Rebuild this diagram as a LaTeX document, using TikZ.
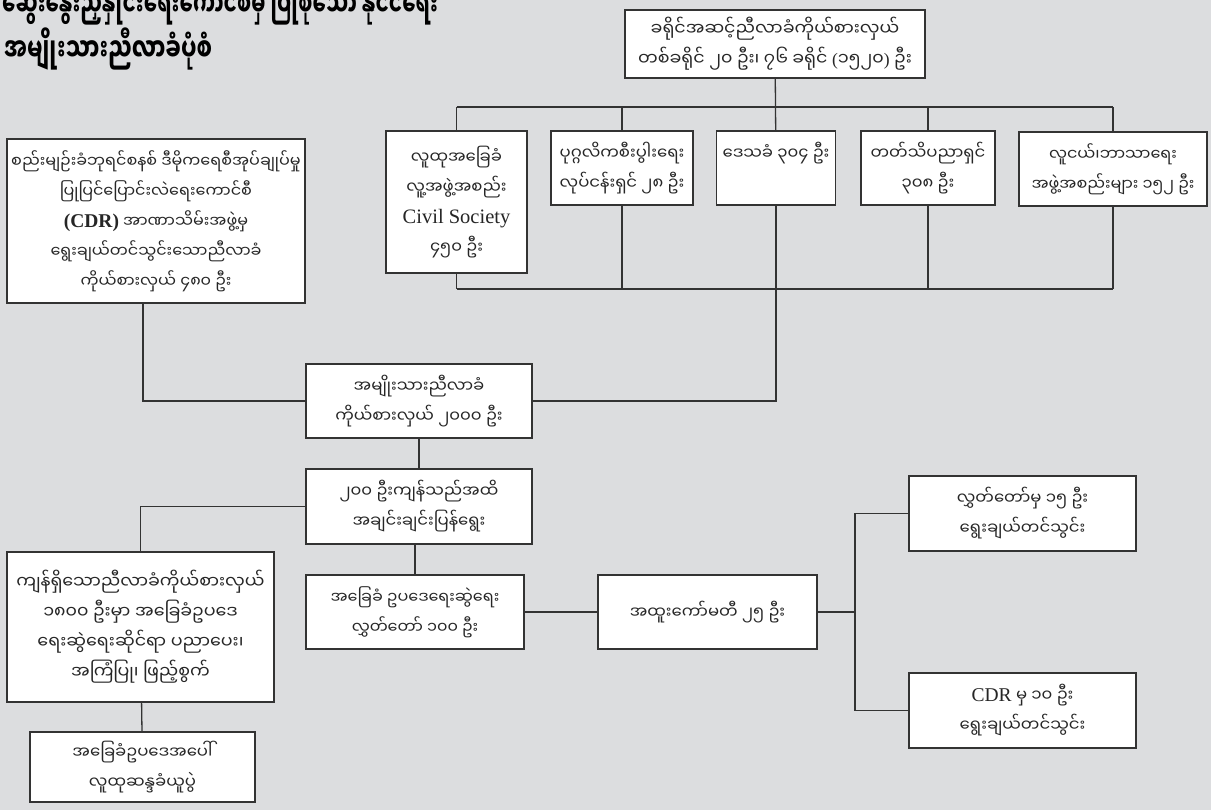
\documentclass[tikz,border=0pt]{standalone}
\usepackage{fontspec}
\setmainfont{Liberation Serif}
\newfontfamily\mmfont[Script=Myanmar]{Noto Sans Myanmar UI}
\usepackage{tikz}
\usetikzlibrary{positioning}

\definecolor{bggray}{RGB}{220,221,223}
\definecolor{boxline}{RGB}{51,51,51}
\newcommand{\lat}[1]{{\rmfamily #1}}

\tikzset{
  box/.style={draw=boxline, fill=white, line width=1.3pt, align=center,
    inner sep=0pt, text=black!85, font=\fontsize{16.5}{30}\selectfont\mmfont},
  bigtext/.style={font=\fontsize{17.5}{30}\selectfont\mmfont},
  smalltext/.style={font=\fontsize{16}{30}\selectfont\mmfont},
  headline/.style={anchor=west, inner sep=0pt, font=\fontsize{32}{30}\selectfont\mmfont\bfseries},
  link/.style={draw=boxline, line width=1.3pt}
}

\begin{document}
\begin{tikzpicture}[x=1pt,y=-1pt]
	\useasboundingbox (0,0) rectangle (1211,810);
	\clip (0,0) rectangle (1211,810);
	\fill[bggray] (0,0) rectangle (1211,810);
	% title
	\node[headline] (title1) at (2,4) {\scalebox{0.62}[1]{ဆွေးနွေးညှိနှိုင်းရေးကောင်စီမှ ပြုစုသော နိုင်ငံရေး}};
	\node[headline] (title2) at (4,49) {\scalebox{0.68}[1]{အမျိုးသားညီလာခံပုံစံ}};
	% upper row
	\node[box, bigtext, minimum width=300, minimum height=68] (top) at (775,44) {ခရိုင်အဆင့်ညီလာခံကိုယ်စားလှယ်\\ တစ်ခရိုင် ၂၀ ဦး၊ ၇၆ ခရိုင် \lat{(}၁၅၂၀\lat{)} ဦး};
	\node[box, minimum width=141, minimum height=142] (civ) at (456.5,202) {လူထုအခြေခံ\\ လူ့အဖွဲ့အစည်း\\ \lat{\fontsize{20.5}{30}\selectfont Civil Society}\\ ၄၅၀ ဦး};
	\node[box, minimum width=142, minimum height=74] (biz) at (622,168) {ပုဂ္ဂလိကစီးပွါးရေး\\ လုပ်ငန်းရှင် ၂၈ ဦး};
	\node[box, minimum width=119, minimum height=74, text depth=34] (loc) at (776,168) {ဒေသခံ ၃၀၄ ဦး};
	\node[box, minimum width=134, minimum height=74] (aca) at (928,168) {တတ်သိပညာရှင်\\ ၃၀၈ ဦး};
	\node[box, smalltext, minimum width=188, minimum height=74] (eth) at (1113,169) {လူငယ်၊ဘာသာရေး\\ အဖွဲ့အစည်းများ ၁၅၂ ဦး};
	\node[box, smalltext, minimum width=298, minimum height=164] (cdr) at (156,221) {စည်းမျဉ်းခံဘုရင်စနစ် ဒီမိုကရေစီအုပ်ချုပ်မှု\\ ပြုပြင်ပြောင်းလဲရေးကောင်စီ\\ \lat{\fontsize{19.5}{30}\selectfont\bfseries (CDR)} အာဏာသိမ်းအဖွဲ့မှ\\ ရွေးချယ်တင်သွင်းသောညီလာခံ\\ ကိုယ်စားလှယ် ၄၈၀ ဦး};
	% middle column
	\node[box, minimum width=226, minimum height=74] (nat) at (419,401) {အမျိုးသားညီလာခံ\\ ကိုယ်စားလှယ်  ၂၀၀၀ ဦး};
	\node[box, minimum width=226, minimum height=75] (rem) at (419,506.5) {၂၀၀ ဦးကျန်သည်အထိ\\ အချင်းချင်းပြန်ရွေး};
	\node[box, smalltext, minimum width=218, minimum height=74] (par) at (415,612) {အခြေခံ ဥပဒေရေးဆွဲရေး\\ လွှတ်တော် ၁၀၀ ဦး};
	\node[box, minimum width=219, minimum height=74] (com) at (707.5,612) {အထူးကော်မတီ ၂၅ ဦး};
	\node[box, minimum width=227, minimum height=75] (hl) at (1022.5,513.5) {လွှတ်တော်မှ ၁၅ ဦး\\ ရွေးချယ်တင်သွင်း};
	\node[box, minimum width=227, minimum height=75] (cdrten) at (1022.5,710.5) {\lat{\fontsize{19.5}{30}\selectfont CDR} မှ ၁၀ ဦး\\ ရွေးချယ်တင်သွင်း};
	% lower left
	\node[box, bigtext, minimum width=267, minimum height=150] (left1) at (140.5,627) {ကျန်ရှိသောညီလာခံကိုယ်စားလှယ်\\ ၁၈၀၀ ဦးမှာ အခြေခံဥပဒေ\\ ရေးဆွဲရေးဆိုင်ရာ ပညာပေး၊\\ အကြံပြု၊ ဖြည့်စွက်};
	\node[box, minimum width=225, minimum height=70] (left2) at (142.5,767) {အခြေခံဥပဒေအပေါ်\\ လူထုဆန္ဒခံယူပွဲ};

	\coordinate (bus) at (775,107);
	\coordinate (busb) at (775,289);
	\coordinate (split) at (855,612);
	\path[link]
	(top) edge (loc)
	(civ.north) edge (civ.north |- bus)
	(biz.north) edge (biz.north |- bus)
	(aca.north) edge (aca.north |- bus)
	(eth.north) edge (eth.north |- bus)
	(civ.south) edge (civ.south |- busb)
	(biz.south) edge (biz.south |- busb)
	(aca.south) edge (aca.south |- busb)
	(eth.south) edge (eth.south |- busb)
	(nat) edge (rem)
	(par.north) edge (par.north |- rem.south)
	(par) edge (com)
	(com) edge (split)
	(left1) edge (left2);
	\draw[link] (civ.north |- bus) -- (eth.north |- bus);
	\draw[link] (civ.south |- busb) -- (eth.south |- busb);
	\draw[link] (loc.south) |- (nat.east);
	\draw[link] ([xshift=-13pt]cdr.south) |- (nat.west);
	\draw[link] (rem.west) -| (left1.north);
	\draw[link] (hl.west) -| (split) |- (cdrten.west);
\end{tikzpicture}
\end{document}
